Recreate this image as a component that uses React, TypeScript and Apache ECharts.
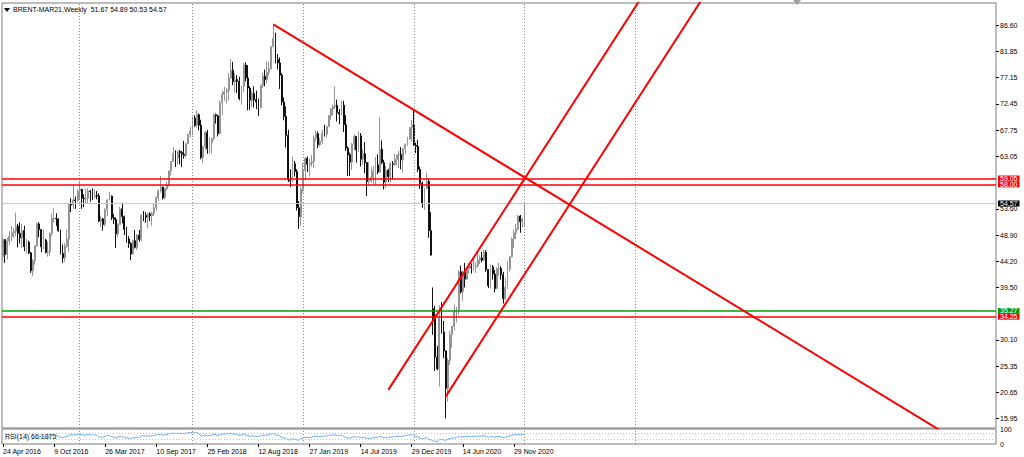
import React, { useEffect, useRef } from "react";
import * as echarts from "echarts";

// ---------- data ----------
const symbolName = "BRENT-MAR21,Weekly";
const startUtc = Date.UTC(2016, 3, 24); // first weekly bar (Sunday)
const totalSlots = 467; // bars + empty future space on the time axis
const monthNames = ["Jan", "Feb", "Mar", "Apr", "May", "Jun", "Jul", "Aug", "Sep", "Oct", "Nov", "Dec"];

// weekly bars [open, high, low, close]
const bars2016: number[][] = [
  [45.1, 48.5, 44.4, 48.1], [48.1, 48.1, 43.9, 45.4], [45.4, 48.4, 44.5, 47.8], [47.8, 49.6, 47.1, 48.7],
  [48.7, 50.5, 47.8, 49.3], [49.3, 50.2, 48.4, 49.6], [49.6, 52.9, 48.7, 50.5], [50.5, 50.9, 46.7, 49.2],
  [49.2, 51.2, 47.4, 48.4], [48.4, 50.9, 46.6, 49.7], [49.7, 50.6, 46.0, 46.8], [46.8, 48.2, 45.6, 47.6],
  [47.6, 47.9, 45.5, 45.7], [45.7, 45.9, 42.1, 42.5], [42.5, 44.6, 41.5, 44.3], [44.3, 47.0, 43.6, 47.0],
  [47.0, 51.2, 46.8, 50.9], [50.9, 51.2, 48.5, 49.9], [49.9, 50.0, 45.8, 46.8], [46.8, 49.9, 46.4, 48.0],
  [48.0, 48.2, 45.6, 45.8], [45.8, 47.7, 45.0, 45.9], [45.9, 49.4, 45.1, 49.2], [49.2, 52.8, 48.7, 51.9],
  [51.9, 53.7, 51.2, 51.9], [51.9, 52.8, 50.5, 51.8], [51.8, 51.9, 49.5, 49.7], [49.7, 49.9, 45.4, 45.6],
  [45.6, 47.2, 43.9, 44.8], [44.8, 47.5, 44.1, 46.9], [46.9, 49.9, 46.6, 48.2], [48.2, 54.6, 45.9, 54.5],
  [54.5, 55.5, 53.0, 54.3], [54.3, 57.9, 53.6, 55.2], [55.2, 55.8, 53.6, 55.1], [55.1, 57.1, 54.9, 56.8],
];
const bars2017: number[][] = [
  [56.8, 58.4, 55.4, 57.1], [57.1, 57.2, 53.6, 55.5], [55.5, 56.2, 53.9, 55.4], [55.4, 57.2, 54.6, 55.5],
  [55.5, 57.3, 54.5, 56.8], [56.8, 57.0, 54.9, 56.7], [56.7, 57.3, 55.2, 55.8], [55.8, 57.1, 55.5, 56.0],
  [56.0, 56.8, 55.3, 55.9], [55.9, 56.4, 51.2, 51.4], [51.4, 52.4, 50.3, 51.8], [51.8, 52.0, 49.7, 50.8],
  [50.8, 53.7, 50.5, 53.5], [53.5, 55.3, 52.3, 55.2], [55.2, 56.7, 55.1, 55.9], [55.9, 56.0, 51.6, 52.0],
  [52.0, 52.7, 50.9, 51.7], [51.7, 52.1, 46.6, 49.1], [49.1, 51.0, 48.5, 50.8], [50.8, 54.0, 50.8, 53.6],
  [53.6, 54.7, 51.0, 52.2], [52.2, 52.4, 48.9, 49.9], [49.9, 50.4, 47.5, 48.2], [48.2, 48.7, 46.6, 47.4],
  [47.4, 47.6, 44.4, 45.5], [45.5, 48.0, 45.4, 47.9], [47.9, 49.8, 46.5, 46.7], [46.7, 49.1, 46.2, 48.9],
  [48.9, 49.8, 47.7, 48.1], [48.1, 52.6, 47.8, 52.5], [52.5, 53.2, 51.4, 52.4], [52.4, 53.0, 51.1, 52.1],
  [52.1, 52.9, 50.1, 52.7], [52.7, 53.0, 51.4, 52.4], [52.4, 53.1, 50.6, 52.8], [52.8, 54.5, 52.3, 53.8],
  [53.8, 55.8, 53.3, 55.6], [55.6, 57.1, 55.0, 56.9], [56.9, 59.5, 56.5, 57.5], [57.5, 57.6, 55.3, 55.6],
  [55.6, 57.4, 55.3, 57.2], [57.2, 58.5, 56.9, 57.8], [57.8, 60.5, 57.6, 60.4], [60.4, 62.2, 59.6, 62.1],
  [62.1, 64.7, 62.0, 63.5], [63.5, 64.1, 61.1, 62.7], [62.7, 64.0, 61.6, 63.9], [63.9, 64.2, 61.6, 63.7],
  [63.7, 64.0, 61.1, 63.4], [63.4, 65.8, 62.6, 63.2], [63.2, 65.4, 62.8, 65.3], [65.3, 67.1, 65.2, 66.9],
];
const bars2018: number[][] = [
  [66.9, 68.3, 66.4, 67.6], [67.6, 70.1, 66.8, 69.9], [69.9, 70.4, 68.3, 68.6], [68.6, 71.3, 68.1, 70.5],
  [70.5, 70.7, 67.7, 68.6], [68.6, 69.6, 62.5, 62.8], [62.8, 64.9, 61.8, 64.8], [64.8, 67.6, 64.2, 67.3],
  [67.3, 67.8, 63.5, 64.4], [64.4, 66.4, 63.5, 65.5], [65.5, 66.4, 63.6, 66.2], [66.2, 70.6, 65.9, 70.5],
  [70.5, 70.7, 68.9, 70.3], [70.3, 70.5, 66.6, 67.1], [67.1, 73.1, 67.0, 72.6], [72.6, 74.8, 70.5, 74.1],
  [74.1, 75.5, 73.0, 74.6], [74.6, 75.3, 72.5, 74.9], [74.9, 78.0, 73.1, 77.1], [77.1, 80.5, 77.0, 78.5],
  [78.5, 80.0, 75.8, 76.4], [76.4, 78.0, 74.5, 76.8], [76.8, 77.6, 74.4, 76.5], [76.5, 77.3, 73.1, 73.4],
  [73.4, 75.7, 72.3, 75.6], [75.6, 79.8, 74.6, 79.4], [79.4, 79.9, 76.5, 77.1], [77.1, 79.4, 71.3, 75.3],
  [75.3, 75.6, 71.3, 73.1], [73.1, 74.8, 71.9, 74.3], [74.3, 75.6, 71.8, 73.2], [73.2, 74.8, 71.5, 72.8],
  [72.8, 73.4, 70.3, 71.8], [71.8, 75.9, 71.6, 75.8], [75.8, 78.0, 75.3, 77.4], [77.4, 78.6, 75.6, 76.8],
  [76.8, 80.1, 76.1, 78.1], [78.1, 80.0, 77.5, 78.8], [78.8, 82.8, 78.6, 82.7], [82.7, 86.7, 82.6, 84.2],
  [84.2, 85.2, 79.7, 80.4], [80.4, 81.4, 78.6, 79.8], [79.8, 80.8, 75.1, 77.6], [77.6, 78.0, 72.2, 72.8],
  [72.8, 73.6, 69.5, 70.2], [70.2, 72.0, 64.6, 66.8], [66.8, 67.8, 58.4, 58.8], [58.8, 60.7, 57.5, 58.7],
  [58.7, 63.0, 58.4, 61.7], [61.7, 62.2, 59.4, 60.3], [60.3, 60.7, 53.3, 53.8], [53.8, 55.0, 50.0, 52.2],
];
const bars2019: number[][] = [
  [52.2, 57.6, 50.6, 57.1], [57.1, 61.9, 56.4, 60.5], [60.5, 62.8, 58.7, 62.7], [62.7, 63.0, 60.2, 61.6],
  [61.6, 62.5, 59.4, 61.9], [61.9, 63.3, 61.1, 62.1], [62.1, 66.8, 61.0, 66.3], [66.3, 67.7, 65.7, 67.1],
  [67.1, 67.5, 64.5, 65.1], [65.1, 66.3, 64.8, 65.7], [65.7, 67.8, 65.2, 67.2], [67.2, 68.7, 66.6, 67.0],
  [67.0, 68.5, 66.4, 68.4], [68.4, 70.5, 68.3, 70.3], [70.3, 71.7, 69.6, 71.6], [71.6, 72.3, 70.4, 72.0],
  [72.0, 75.6, 71.5, 72.2], [72.2, 73.2, 69.3, 70.9], [70.9, 71.5, 68.8, 70.6], [70.6, 73.0, 70.4, 72.2],
  [72.2, 73.0, 67.4, 68.7], [68.7, 70.4, 64.0, 64.5], [64.5, 64.8, 59.5, 63.3], [63.3, 63.7, 59.5, 62.0],
  [62.0, 65.4, 60.6, 65.2], [65.2, 67.0, 64.1, 66.6], [66.6, 66.7, 61.9, 64.2], [64.2, 67.5, 63.8, 66.7],
  [66.7, 67.2, 61.2, 62.5], [62.5, 64.3, 61.5, 63.5], [63.5, 65.6, 60.0, 61.9], [61.9, 62.0, 55.9, 58.5],
  [58.5, 62.0, 57.9, 58.6], [58.6, 61.1, 58.3, 59.3], [59.3, 61.3, 57.9, 60.4], [60.4, 62.9, 57.9, 61.5],
  [61.5, 63.4, 59.8, 60.2], [60.2, 70.0, 60.1, 64.3], [64.3, 65.9, 61.6, 61.9], [61.9, 62.4, 57.1, 58.4],
  [58.4, 61.3, 57.3, 60.5], [60.5, 60.8, 58.4, 59.4], [59.4, 62.0, 58.3, 61.7], [61.7, 62.2, 58.9, 61.6],
  [61.6, 63.5, 61.3, 62.5], [62.5, 63.3, 61.4, 63.3], [63.3, 64.0, 60.9, 63.4], [63.4, 64.7, 60.7, 62.4],
  [62.4, 64.5, 60.1, 64.4], [64.4, 65.3, 63.5, 65.2], [65.2, 66.5, 64.9, 66.1], [66.1, 68.3, 66.0, 68.2],
];
const bars2020: number[][] = [
  [68.2, 69.5, 65.7, 68.6], [68.6, 71.3, 64.9, 65.0], [65.0, 65.5, 63.6, 64.8], [64.8, 66.0, 60.2, 60.7],
  [60.7, 61.2, 57.2, 58.2], [58.2, 58.5, 53.8, 54.5], [54.5, 57.4, 53.4, 57.3], [57.3, 60.1, 57.1, 58.5],
  [58.5, 59.0, 48.4, 49.7], [49.7, 53.0, 45.2, 45.3], [35.7, 39.5, 31.0, 33.9], [33.9, 36.2, 24.5, 27.0],
  [27.0, 29.0, 24.6, 24.9], [24.9, 36.3, 21.7, 34.1], [34.1, 36.9, 31.2, 31.5], [31.5, 33.5, 26.8, 28.1],
  [28.1, 28.2, 16.0, 21.4], [21.4, 26.8, 19.0, 26.4], [26.4, 31.7, 25.6, 31.0], [31.0, 32.6, 28.6, 32.5],
  [32.5, 36.4, 31.8, 35.1], [35.1, 36.0, 33.2, 35.3], [35.3, 42.6, 34.6, 42.3], [42.3, 43.4, 38.4, 38.7],
  [38.7, 42.5, 37.1, 42.2], [42.2, 43.9, 39.5, 41.0], [41.0, 43.0, 40.8, 42.8], [42.8, 43.9, 42.0, 43.2],
  [43.2, 43.8, 42.0, 43.1], [43.1, 45.0, 42.5, 43.3], [43.3, 44.0, 42.1, 43.4], [43.4, 45.9, 43.1, 44.4],
  [44.4, 45.3, 43.7, 44.8], [44.8, 45.9, 44.0, 44.4], [44.4, 46.2, 44.3, 45.8], [45.8, 46.2, 42.3, 42.7],
  [42.7, 42.8, 39.4, 39.8], [39.8, 43.6, 39.3, 43.2], [43.2, 43.5, 40.9, 41.9], [41.9, 42.6, 38.6, 39.3],
  [39.3, 43.1, 39.2, 42.9], [42.9, 43.9, 41.6, 42.9], [42.9, 43.3, 40.9, 41.8], [41.8, 42.3, 36.6, 37.5],
  [37.5, 41.2, 37.2, 39.5], [39.5, 44.2, 39.2, 42.8], [42.8, 45.2, 42.3, 45.0], [45.0, 48.5, 44.9, 48.2],
  [48.2, 49.9, 46.6, 49.3], [49.3, 50.9, 48.2, 50.0], [50.0, 52.5, 49.8, 52.3], [52.3, 52.5, 49.3, 51.3],
  [51.3, 52.0, 50.3, 51.8],
];
const bars2021: number[][] = [[51.67, 54.89, 50.53, 54.57]];

const priceTicks = [86.6, 81.85, 77.15, 72.45, 67.75, 63.05, 53.6, 48.9, 44.2, 39.5, 30.1, 25.35, 20.65, 15.95];
const rsiTicks = [0, 30, 70, 100];
const rsiLevels = [30, 70];
const rsiPeriod = 14;
const rsiLastText = "66.1875";
const xTickLabels = [
  "24 Apr 2016", "9 Oct 2016", "26 Mar 2017", "10 Sep 2017", "25 Feb 2018", "12 Aug 2018",
  "27 Jan 2019", "14 Jul 2019", "29 Dec 2019", "14 Jun 2020", "29 Nov 2020",
];
const yearSeparators = ["1 Jan 2017", "7 Jan 2018", "6 Jan 2019", "5 Jan 2020", "3 Jan 2021", "2 Jan 2022"];
const redLevels = [59.05, 58.0, 34.25];
const greenLevels = [35.27];
// trend lines: [week index, price] anchor pairs
const trendDown = [[127, 86.7], [440, 13.9]];
const channelUpper = [[181, 21.12], [300, 91.58]];
const channelLower = [[208, 19.95], [330, 92.19]];

// ---------- helpers ----------
const bars = [...bars2016, ...bars2017, ...bars2018, ...bars2019, ...bars2020, ...bars2021];
const weekLabels: string[] = [];
for (let i = 0; i < totalSlots; i++) {
  const d = new Date(startUtc + i * 7 * 86400000);
  weekLabels.push(`${d.getUTCDate()} ${monthNames[d.getUTCMonth()]} ${d.getUTCFullYear()}`);
}

function computeRsi(closes: number[], period: number): (number | string)[] {
  const out: (number | string)[] = closes.map(() => "-");
  let g = 0, l = 0;
  for (let i = 1; i <= period; i++) {
    const d = closes[i] - closes[i - 1];
    if (d > 0) g += d; else l -= d;
  }
  g /= period; l /= period;
  out[period] = l === 0 ? 100 : 100 - 100 / (1 + g / l);
  for (let i = period + 1; i < closes.length; i++) {
    const d = closes[i] - closes[i - 1];
    g = (g * (period - 1) + Math.max(d, 0)) / period;
    l = (l * (period - 1) + Math.max(-d, 0)) / period;
    out[i] = l === 0 ? 100 : 100 - 100 / (1 + g / l);
  }
  return out;
}

const FONT = "'Liberation Sans', Arial, sans-serif";

export default function App() {
  const ref = useRef<HTMLDivElement>(null);
  useEffect(() => {
    if (!ref.current) return;
    const chart = echarts.init(ref.current, undefined, { renderer: "svg" });
    const candleData = bars.map((b) => [b[0], b[3], b[2], b[1]]);
    const closes = bars.map((b) => b[3]);
    const rsi = computeRsi(closes, rsiPeriod);
    const last = bars[bars.length - 1];
    const bid = last[3];

    const boxLabel = (bg: string) => ({
      show: true,
      position: "end",
      distance: 2,
      formatter: (p: any) => Number(p.value).toFixed(2),
      color: "#ffffff",
      backgroundColor: bg,
      padding: [0, 2, 0, 2],
      fontSize: 7,
      lineHeight: 6,
      fontFamily: FONT,
    });
    const sepLine = (d: string) => ({
      xAxis: d,
      lineStyle: { color: "#8a8a8a", type: [1, 2], width: 1 },
      label: { show: false },
    });
    const trend = (pts: number[][]) => ({
      type: "line",
      xAxisIndex: 0,
      yAxisIndex: 0,
      data: pts,
      symbol: "none",
      clip: true,
      silent: true,
      lineStyle: { color: "#ff0000", width: 2 },
      z: 4,
    });

    const option: any = {
      animation: false,
      backgroundColor: "#ffffff",
      textStyle: { fontFamily: FONT },
      grid: [
        { left: 2, right: 28, top: 3, height: 425, show: true, borderColor: "#7a7a7a", borderWidth: 1, backgroundColor: "#fff" },
        { left: 2, right: 28, top: 429, height: 15, show: true, borderColor: "#7a7a7a", borderWidth: 1, backgroundColor: "#fff" },
      ],
      xAxis: [
        {
          type: "category", gridIndex: 0, data: weekLabels, boundaryGap: true,
          axisLine: { show: false }, axisTick: { show: false }, axisLabel: { show: false }, splitLine: { show: false },
        },
        {
          type: "category", gridIndex: 1, data: weekLabels, boundaryGap: true,
          axisLine: { show: false },
          axisTick: {
            show: true, alignWithLabel: true, length: 3,
            interval: (_i: number, v: string) => xTickLabels.includes(v),
            lineStyle: { color: "#000" },
          },
          axisLabel: {
            show: true, interval: (_i: number, v: string) => xTickLabels.includes(v),
            align: "left", fontSize: 7, color: "#000", margin: 4, fontFamily: FONT, hideOverlap: false,
          },
          splitLine: { show: false },
        },
      ],
      yAxis: [
        {
          type: "value", gridIndex: 0, position: "right", min: 14.27, max: 90.55, scale: true,
          axisLine: { show: false }, splitLine: { show: false },
          axisTick: { show: true, length: 3, customValues: priceTicks, lineStyle: { color: "#000" } },
          axisLabel: {
            show: true, customValues: priceTicks, formatter: (v: number) => v.toFixed(2),
            fontSize: 7, lineHeight: 7, color: "#000", margin: 4, fontFamily: FONT,
          },
        },
        {
          type: "value", gridIndex: 1, position: "right", min: 0, max: 100,
          axisLine: { show: false }, splitLine: { show: false },
          axisTick: { show: false },
          axisLabel: {
            show: true, customValues: rsiTicks, showMinLabel: true, showMaxLabel: true,
            fontSize: 7, lineHeight: 6, color: "#000", margin: 4, fontFamily: FONT,
          },
        },
      ],
      series: [
        {
          type: "candlestick",
          xAxisIndex: 0, yAxisIndex: 0,
          data: candleData,
          barWidth: 1.4,
          itemStyle: {
            color: "#959595", color0: "#111111",
            borderColor: "#959595", borderColor0: "#111111", borderWidth: 1,
          },
          markLine: {
            silent: true, symbol: ["none", "none"], animation: false, z: 3,
            data: [
              ...yearSeparators.map(sepLine),
              { yAxis: bid, lineStyle: { color: "#c8c8c8", type: "solid", width: 1 }, label: boxLabel("#000000") },
              ...redLevels.map((v) => ({ yAxis: v, lineStyle: { color: "#ff0000", type: "solid", width: 1.5 }, label: boxLabel("#ff0000") })),
              ...greenLevels.map((v) => ({ yAxis: v, lineStyle: { color: "#00a000", type: "solid", width: 1.5 }, label: boxLabel("#00a000") })),
            ],
          },
          z: 2,
        },
        trend(trendDown),
        trend(channelUpper),
        trend(channelLower),
        {
          type: "line",
          xAxisIndex: 1, yAxisIndex: 1,
          data: rsi,
          symbol: "none",
          lineStyle: { color: "#6ab0f5", width: 1 },
          markLine: {
            silent: true, symbol: ["none", "none"], animation: false,
            data: [
              ...rsiLevels.map((v) => ({ yAxis: v, lineStyle: { color: "#c0c0c0", type: [1, 2], width: 1 }, label: { show: false } })),
              ...yearSeparators.map(sepLine),
            ],
          },
        },
      ],
      graphic: [
        { type: "polygon", shape: { points: [[4, 8], [10, 8], [7, 12]] }, style: { fill: "#000" } },
        {
          type: "text", left: 13, top: 6,
          style: { text: `${symbolName}  ${last[0].toFixed(2)} ${last[1].toFixed(2)} ${last[2].toFixed(2)} ${last[3].toFixed(2)}`, fontSize: 7, fill: "#000", fontFamily: FONT },
        },
        {
          type: "text", left: 5, top: 433,
          style: { text: `RSI(${rsiPeriod}) ${rsiLastText}`, fontSize: 7, fill: "#000", fontFamily: FONT },
        },
        { type: "polygon", shape: { points: [[793, 0], [801, 0], [797, 5]] }, style: { fill: "#a0a0a0" } },
      ],
    };
    chart.setOption(option);
    return () => chart.dispose();
  }, []);
  return <div ref={ref} style={{ position: "absolute", left: 0, top: 0, width: 1024, height: 457 }} />;
}
